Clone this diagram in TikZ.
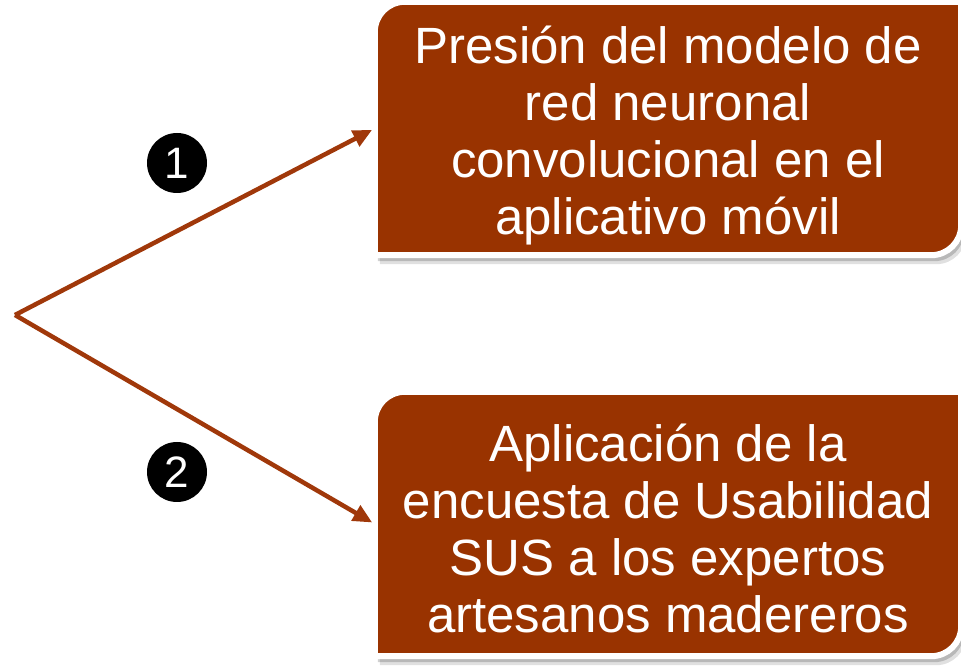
\documentclass[tikz,border=0pt]{standalone}
\usepackage{fontspec}
\setmainfont{Liberation Sans}
\usetikzlibrary{arrows.meta, shadows, backgrounds, positioning}
\definecolor{BoxRust}{RGB}{153, 51, 0}
\definecolor{ArrowRust}{RGB}{160, 56, 10}

\tikzset{
  stagebox/.style={minimum width=586pt, inner sep=0pt},
  stagetext/.style={inner sep=0pt, align=center, text=white,
    font=\fontsize{51}{57}\selectfont},
  stageframe/.style={fill=BoxRust, draw=white, line width=6pt,
    drop shadow={shadow xshift=5pt, shadow yshift=-9pt, fill=black, opacity=0.12},
    drop shadow={shadow xshift=3pt, shadow yshift=-6pt, fill=black, opacity=0.18}},
  stagelink/.style={ArrowRust, line width=4.5pt, shorten >=3pt,
    -{Triangle[length=19pt, width=17pt]}},
  stepmark/.style={circle, fill=black, minimum size=60pt, inner sep=0pt,
    text=white, font=\fontsize{44}{44}\selectfont}
}

% rounded top-left and bottom-right corners only
\newcommand{\stageoutline}[1]{%
  \path[stageframe] (#1.south west) -- ([yshift=-30pt]#1.north west)
    arc[start angle=180, end angle=90, radius=30pt] -- (#1.north east)
    -- ([yshift=30pt]#1.south east)
    arc[start angle=0, end angle=-90, radius=30pt] -- cycle;}

\begin{document}
\begin{tikzpicture}[x=1pt, y=1pt]
    \path[use as bounding box] (0,0) rectangle (961,666);

    \node[stagebox, minimum height=253pt] (precision) at (668,537.5) {};
    \node[stagebox, minimum height=264pt] (survey) at (668,142) {};

    \begin{scope}[on background layer]
      \stageoutline{precision}
      \stageoutline{survey}
    \end{scope}

    \node[stagetext] (precisiontext) at ([yshift=-7pt]precision.center)
      {Presión del modelo de\\red neuronal\\convolucional en el\\aplicativo móvil};
    \node[stagetext] (surveytext) at ([yshift=-4pt]survey.center)
      {Aplicación de la\\encuesta de Usabilidad\\SUS a los expertos\\artesanos madereros};

    \coordinate (fork) at (15,351);
    \draw[stagelink] (fork) -- (precision.west);
    \draw[stagelink] (fork) -- (survey.west);

    \node[stepmark] (one) at (177,503) {1};
    \node[stepmark] (two) at (177,194) {2};
\end{tikzpicture}
\end{document}
